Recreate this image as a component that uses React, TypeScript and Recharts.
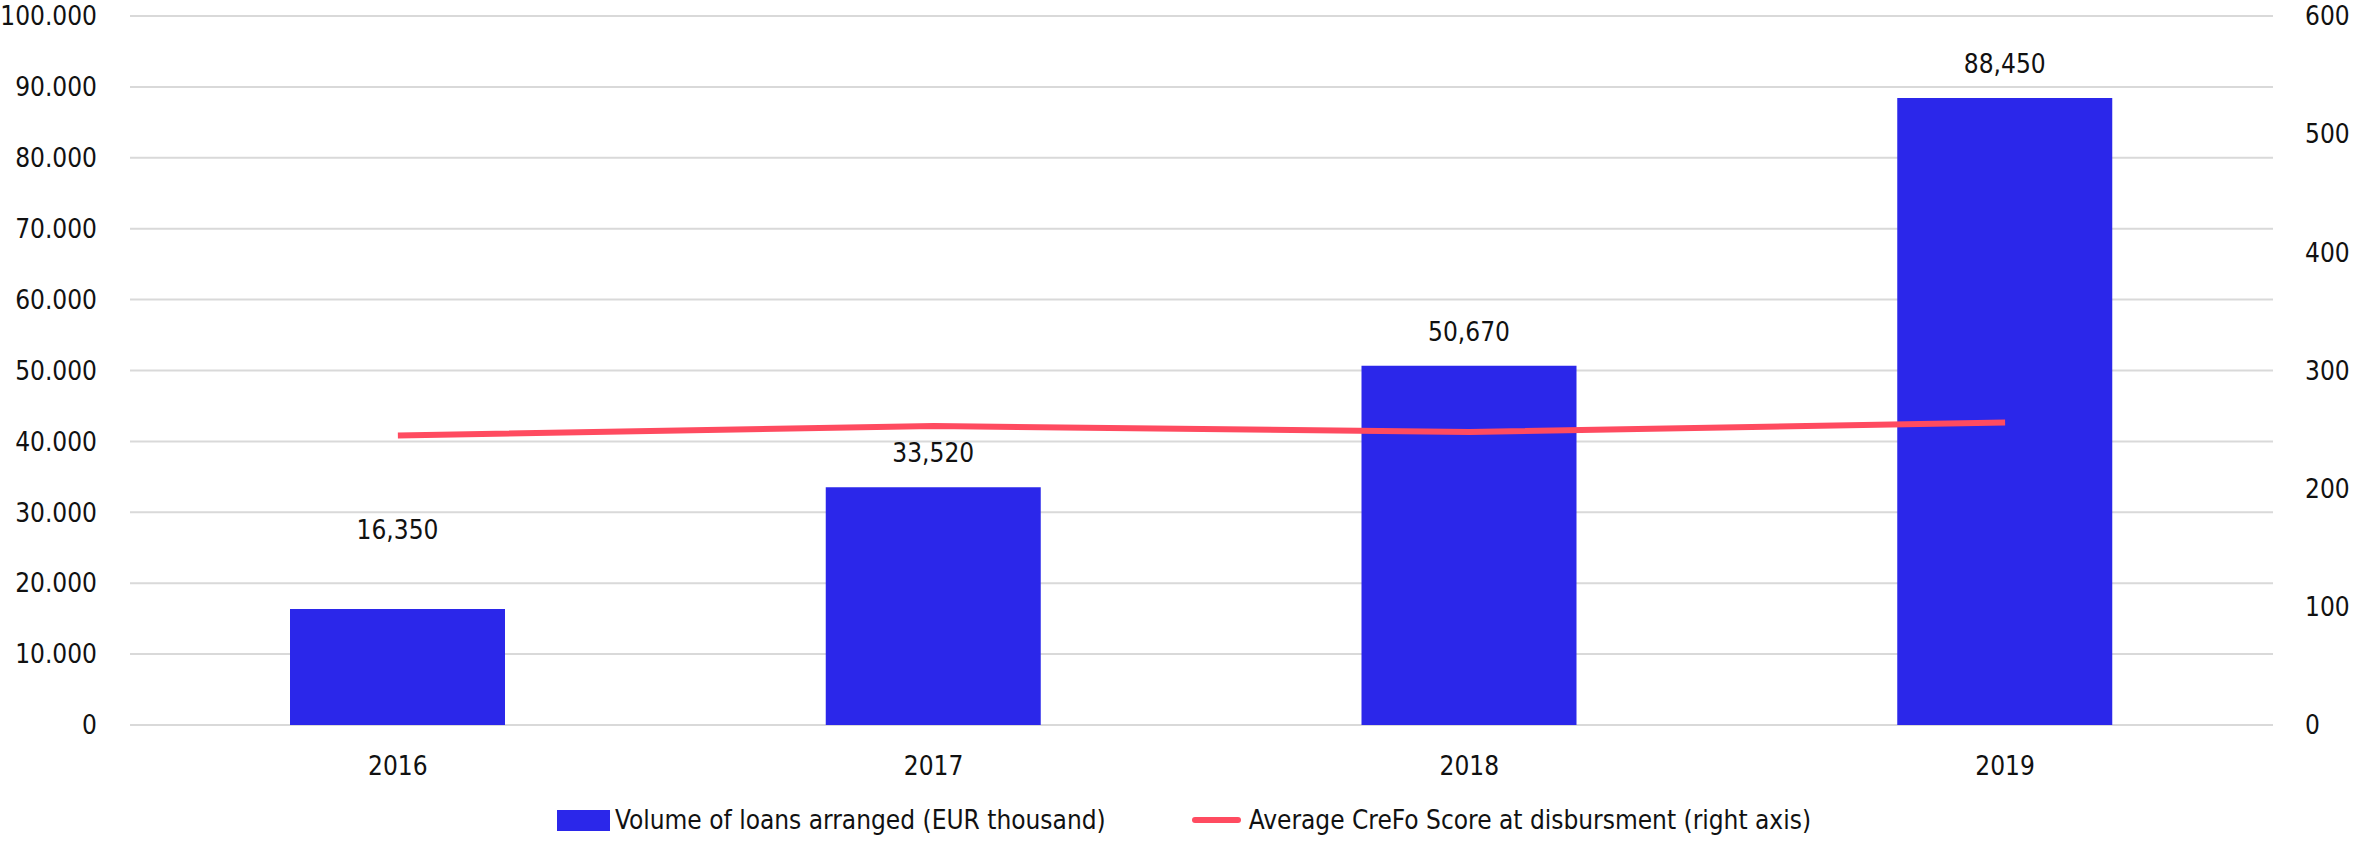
import { ComposedChart, Bar, Line, XAxis, YAxis, CartesianGrid, Legend, LabelList } from 'recharts';

const years = ['2016', '2017', '2018', '2019'];
const loanVolume = [16350, 33520, 50670, 88450];
const crefoScore = [245, 253, 248, 256];
const leftTicks = [0, 10000, 20000, 30000, 40000, 50000, 60000, 70000, 80000, 90000, 100000];
const rightTicks = [0, 100, 200, 300, 400, 500, 600];

const FONT = "'DejaVu Sans Condensed', 'Liberation Sans Narrow', sans-serif";
const BLUE = '#2B27EA';
const RED = '#FF4B60';

const data = years.map((year, i) => ({ year, volume: loanVolume[i], score: crefoScore[i] }));

const dotted = (v: number) => String(v).replace(/\B(?=(\d{3})+(?!\d))/g, '.');
const commas = (v: number) => String(v).replace(/\B(?=(\d{3})+(?!\d))/g, ',');

// the first label sits higher above its bar in the original
const BarValue = (props: any) => {
  const { x, y, width, value, index } = props;
  const lift = index === 0 ? 70 : 25;
  return (
    <text x={x + width / 2} y={y - lift} textAnchor="middle" fontFamily={FONT} fontSize={26} fill="#111">
      {commas(Number(value))}
    </text>
  );
};

function LegendContent() {
  return (
    <div style={{ display: 'flex', justifyContent: 'center', alignItems: 'center', fontFamily: FONT, fontSize: 26, color: '#111', paddingTop: 10, paddingLeft: 12 }}>
      <span style={{ display: 'inline-block', width: 53, height: 21, background: BLUE, marginRight: 5 }} />
      <span>Volume of loans arranged (EUR thousand)</span>
      <span style={{ display: 'inline-block', width: 49, height: 6, background: RED, borderRadius: 3, marginLeft: 86, marginRight: 8 }} />
      <span>Average CreFo Score at disbursment (right axis)</span>
    </div>
  );
}

export default function App() {
  const tick = { fontFamily: FONT, fontSize: 26, fill: '#111' };
  return (
    <div style={{ position: 'absolute', left: 0, top: 0, background: '#fff' }}>
      <ComposedChart width={2356} height={842} data={data} margin={{ top: 16, right: 0, bottom: 0, left: 0 }}>
        <CartesianGrid yAxisId="left" vertical={false} stroke="#D9D9D9" strokeWidth={2} />
        <XAxis dataKey="year" axisLine={false} tickLine={false} tick={tick} tickMargin={26} height={70} />
        <YAxis yAxisId="left" domain={[0, 100000]} ticks={leftTicks} tickFormatter={dotted} axisLine={false} tickLine={false} tick={tick} tickMargin={27} width={130} interval={0} />
        <YAxis yAxisId="right" orientation="right" domain={[0, 600]} ticks={rightTicks} axisLine={false} tickLine={false} tick={tick} tickMargin={26} width={83} interval={0} />
        <Legend verticalAlign="bottom" height={47} content={<LegendContent />} />
        <Bar yAxisId="left" dataKey="volume" fill={BLUE} barSize={215} isAnimationActive={false}>
          <LabelList dataKey="volume" content={<BarValue />} />
        </Bar>
        <Line yAxisId="right" type="linear" dataKey="score" stroke={RED} strokeWidth={6} dot={false} isAnimationActive={false} />
      </ComposedChart>
    </div>
  );
}
